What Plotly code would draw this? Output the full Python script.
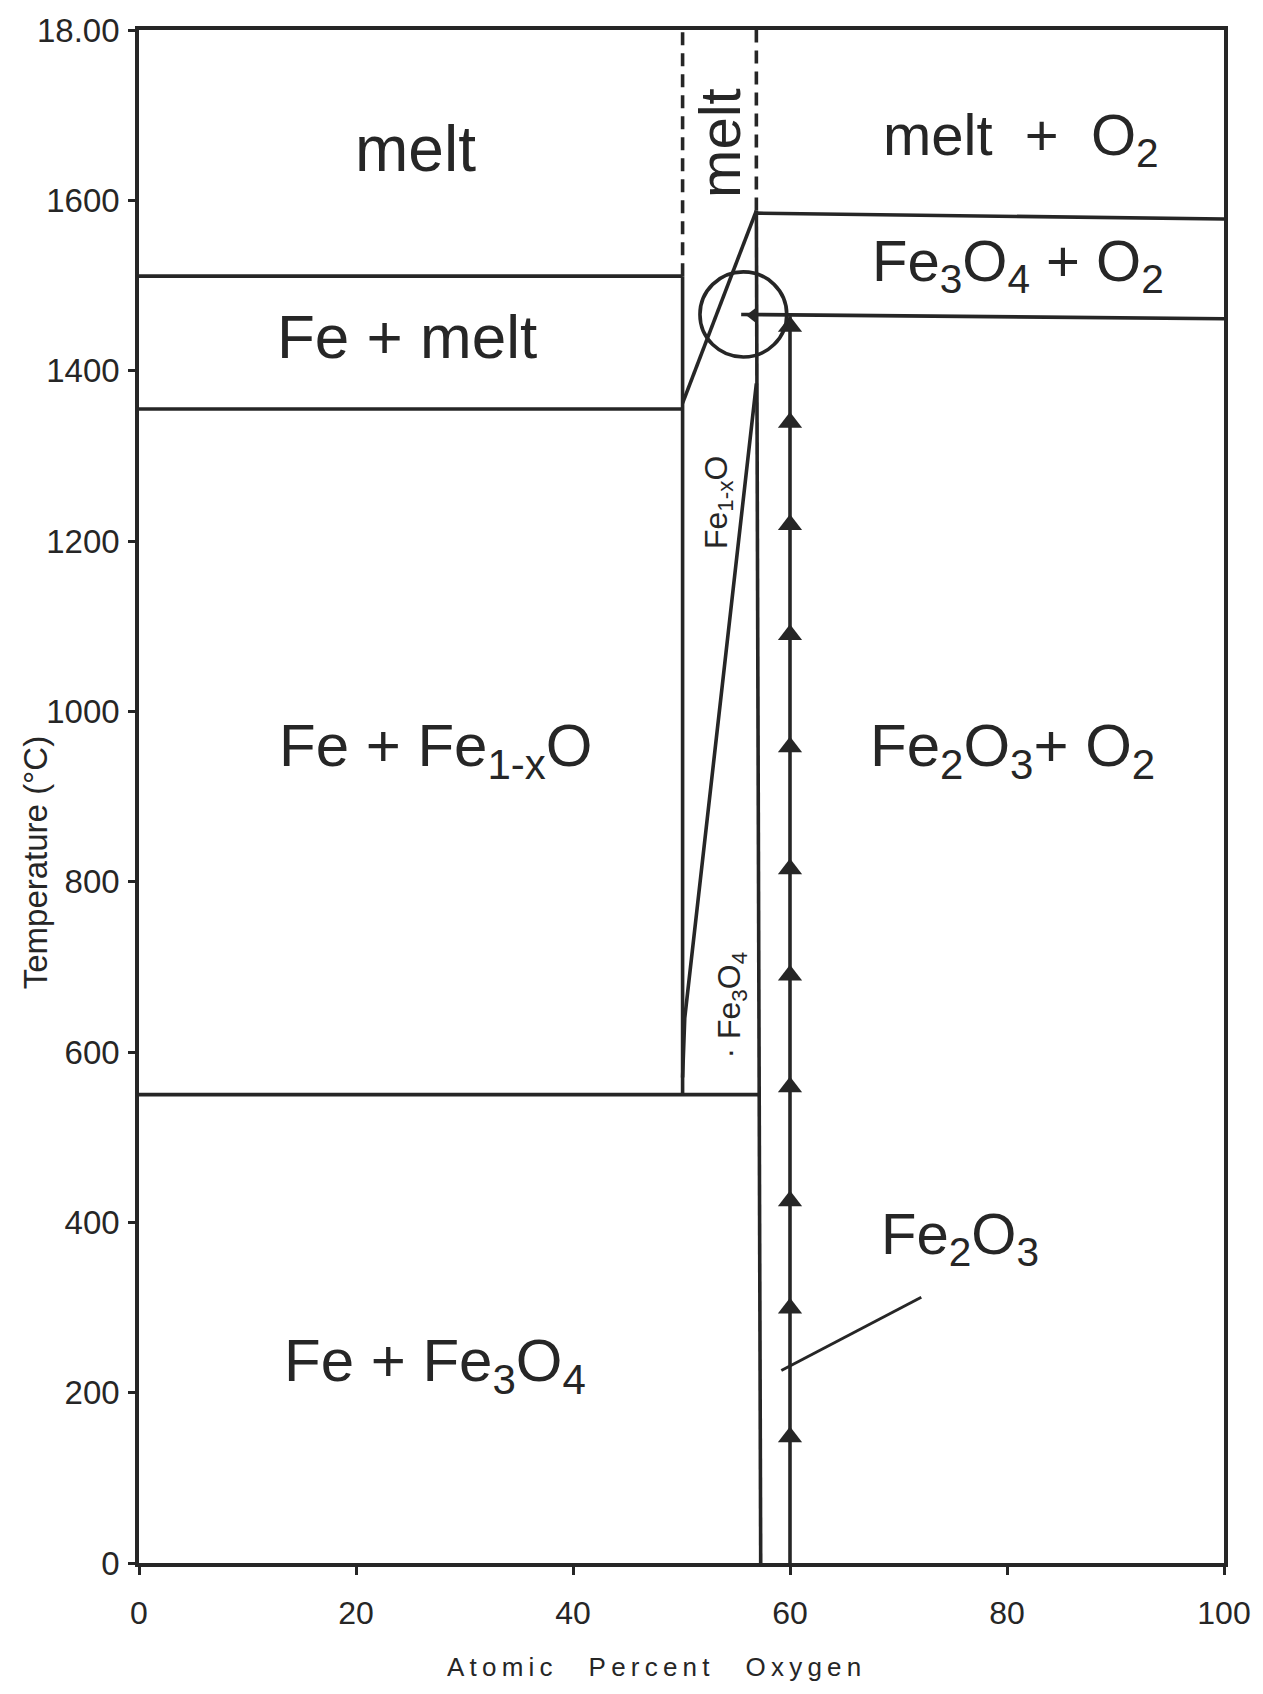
import plotly.graph_objects as go

# ---------------- data ----------------
x_tick_vals = [0, 20, 40, 60, 80, 100]
x_tick_text = ["0", "20", "40", "60", "80", "100"]
y_tick_vals = [0, 200, 400, 600, 800, 1000, 1200, 1400, 1600, 1800]
y_tick_text = ["0", "200", "400", "600", "800", "1000", "1200", "1400", "1600", "18.00"]

# phase boundaries (atomic % O, temperature degC)
fe_melt_top_x = [0, 50.1]
fe_melt_top_t = [1511, 1511]
fe_melt_bottom_x = [0, 50.1]
fe_melt_bottom_t = [1355, 1355]
eutectoid_x = [0, 57.3]
eutectoid_t = [550, 550]
wustite_left_x = [50.1, 50.1]
wustite_left_t = [550, 1511]
melt_left_dash_x = [50.1, 50.1]
melt_left_dash_t = [1511, 1800]
melt_right_dash_x = [56.9, 56.9]
melt_right_dash_t = [1588, 1800]
magnetite_x = [56.9, 57.3]
magnetite_t = [1588, 0]
liquidus_x = [50.1, 56.9]
liquidus_t = [1362, 1588]
wustite_right_x = [50.1, 50.3, 56.9]
wustite_right_t = [570, 640, 1385]
fe3o4_o2_top_x = [56.9, 100]
fe3o4_o2_top_t = [1585, 1578]
fe3o4_o2_bottom_x = [55.5, 100]
fe3o4_o2_bottom_t = [1466, 1461]
hematite_x = [60, 60]
hematite_t = [0, 1464]
hematite_arrow_t = [1452, 1339, 1219, 1090, 958, 815, 690, 559, 425, 299, 148]
pointer_x = [59.2, 72.1]
pointer_t = [226, 312]
left_arrow_x = [56.6]
left_arrow_t = [1465]
circle_center = (55.7, 1466)
circle_radius = (4.0, 50)

# region labels: text, x, T, size, angle
labels = [
    ("melt", 25.5, 1660, 64, 0),
    ("melt", 53.5, 1668, 58, -90),
    ("melt  +  O<sub>2</sub>", 81.3, 1672, 58, 0),
    ("Fe<sub>3</sub>O<sub>4</sub> + O<sub>2</sub>", 81.0, 1524, 58, 0),
    ("Fe + melt", 24.7, 1440, 62, 0),
    ("Fe<sub>1-x</sub>O", 53.4, 1245, 32, -90),
    ("Fe + Fe<sub>1-x</sub>O", 27.3, 955, 60, 0),
    ("Fe<sub>2</sub>O<sub>3</sub>+ O<sub>2</sub>", 80.5, 955, 60, 0),
    ("· Fe<sub>3</sub>O<sub>4</sub>", 54.6, 655, 32, -90),
    ("Fe<sub>2</sub>O<sub>3</sub>", 75.7, 382, 58, 0),
    ("Fe + Fe<sub>3</sub>O<sub>4</sub>", 27.3, 232, 60, 0),
]

x_title = "A\u2009t\u2009o\u2009m\u2009i\u2009c     P\u2009e\u2009r\u2009c\u2009e\u2009n\u2009t     O\u2009x\u2009y\u2009g\u2009e\u2009n"
y_title = "Temperature (°C)"

# ---------------- figure ----------------
INK = "#262626"
FONT = "Liberation Sans, Arial, sans-serif"
LW = 3.6

fig = go.Figure()

solid_lines = [
    (fe_melt_top_x, fe_melt_top_t),
    (fe_melt_bottom_x, fe_melt_bottom_t),
    (eutectoid_x, eutectoid_t),
    (wustite_left_x, wustite_left_t),
    (magnetite_x, magnetite_t),
    (liquidus_x, liquidus_t),
    (wustite_right_x, wustite_right_t),
    (fe3o4_o2_top_x, fe3o4_o2_top_t),
    (fe3o4_o2_bottom_x, fe3o4_o2_bottom_t),
    (hematite_x, hematite_t),
]
for xs, ts in solid_lines:
    fig.add_trace(go.Scatter(x=xs, y=ts, mode="lines",
                             line=dict(color=INK, width=LW), hoverinfo="skip"))

for xs, ts in [(melt_left_dash_x, melt_left_dash_t), (melt_right_dash_x, melt_right_dash_t)]:
    fig.add_trace(go.Scatter(x=xs, y=ts, mode="lines",
                             line=dict(color=INK, width=LW, dash="13px,8px"), hoverinfo="skip"))

fig.add_trace(go.Scatter(x=pointer_x, y=pointer_t, mode="lines",
                         line=dict(color=INK, width=3), hoverinfo="skip"))

fig.add_trace(go.Scatter(x=[hematite_x[0]] * len(hematite_arrow_t), y=hematite_arrow_t,
                         mode="markers",
                         marker=dict(symbol="triangle-up", size=21, color=INK),
                         hoverinfo="skip"))
fig.add_trace(go.Scatter(x=left_arrow_x, y=left_arrow_t, mode="markers",
                         marker=dict(symbol="triangle-left", size=14, color=INK),
                         hoverinfo="skip"))

cx, ct = circle_center
rx, rt = circle_radius
fig.add_shape(type="circle", xref="x", yref="y",
              x0=cx - rx, x1=cx + rx, y0=ct - rt, y1=ct + rt,
              line=dict(color=INK, width=LW))

for text, x, t, size, ang in labels:
    fig.add_annotation(x=x, y=t, xref="x", yref="y", text=text, showarrow=False,
                       textangle=ang, font=dict(family=FONT, size=size, color=INK),
                       xanchor="center", yanchor="middle")

fig.add_annotation(x=47.5, y=-0.068, xref="x", yref="paper", text=x_title,
                   showarrow=False, font=dict(family=FONT, size=26, color=INK),
                   xanchor="center", yanchor="middle")
fig.add_annotation(x=-0.0946, y=822, xref="paper", yref="y", text=y_title,
                   showarrow=False, textangle=-90,
                   font=dict(family=FONT, size=33, color=INK),
                   xanchor="center", yanchor="middle")

fig.update_layout(
    width=1263, height=1694,
    margin=dict(l=139, r=35, t=22, b=131),
    paper_bgcolor="white", plot_bgcolor="white",
    showlegend=False,
)
fig.update_xaxes(range=[0, 100], tickvals=x_tick_vals, ticktext=x_tick_text,
                 showgrid=False, zeroline=False, showline=True, mirror=True,
                 linecolor=INK, linewidth=LW, ticks="outside", ticklen=8,
                 tickwidth=2.5, tickcolor=INK, ticklabelstandoff=11,
                 tickfont=dict(family=FONT, size=32, color=INK))
fig.update_yaxes(range=[0, 1800], tickvals=y_tick_vals, ticktext=y_tick_text,
                 showgrid=False, zeroline=False, showline=True, mirror=True,
                 linecolor=INK, linewidth=LW, ticks="outside", ticklen=7,
                 tickwidth=2.5, tickcolor=INK, ticklabelstandoff=2,
                 tickfont=dict(family=FONT, size=33, color=INK))

fig.write_html("out.html")
